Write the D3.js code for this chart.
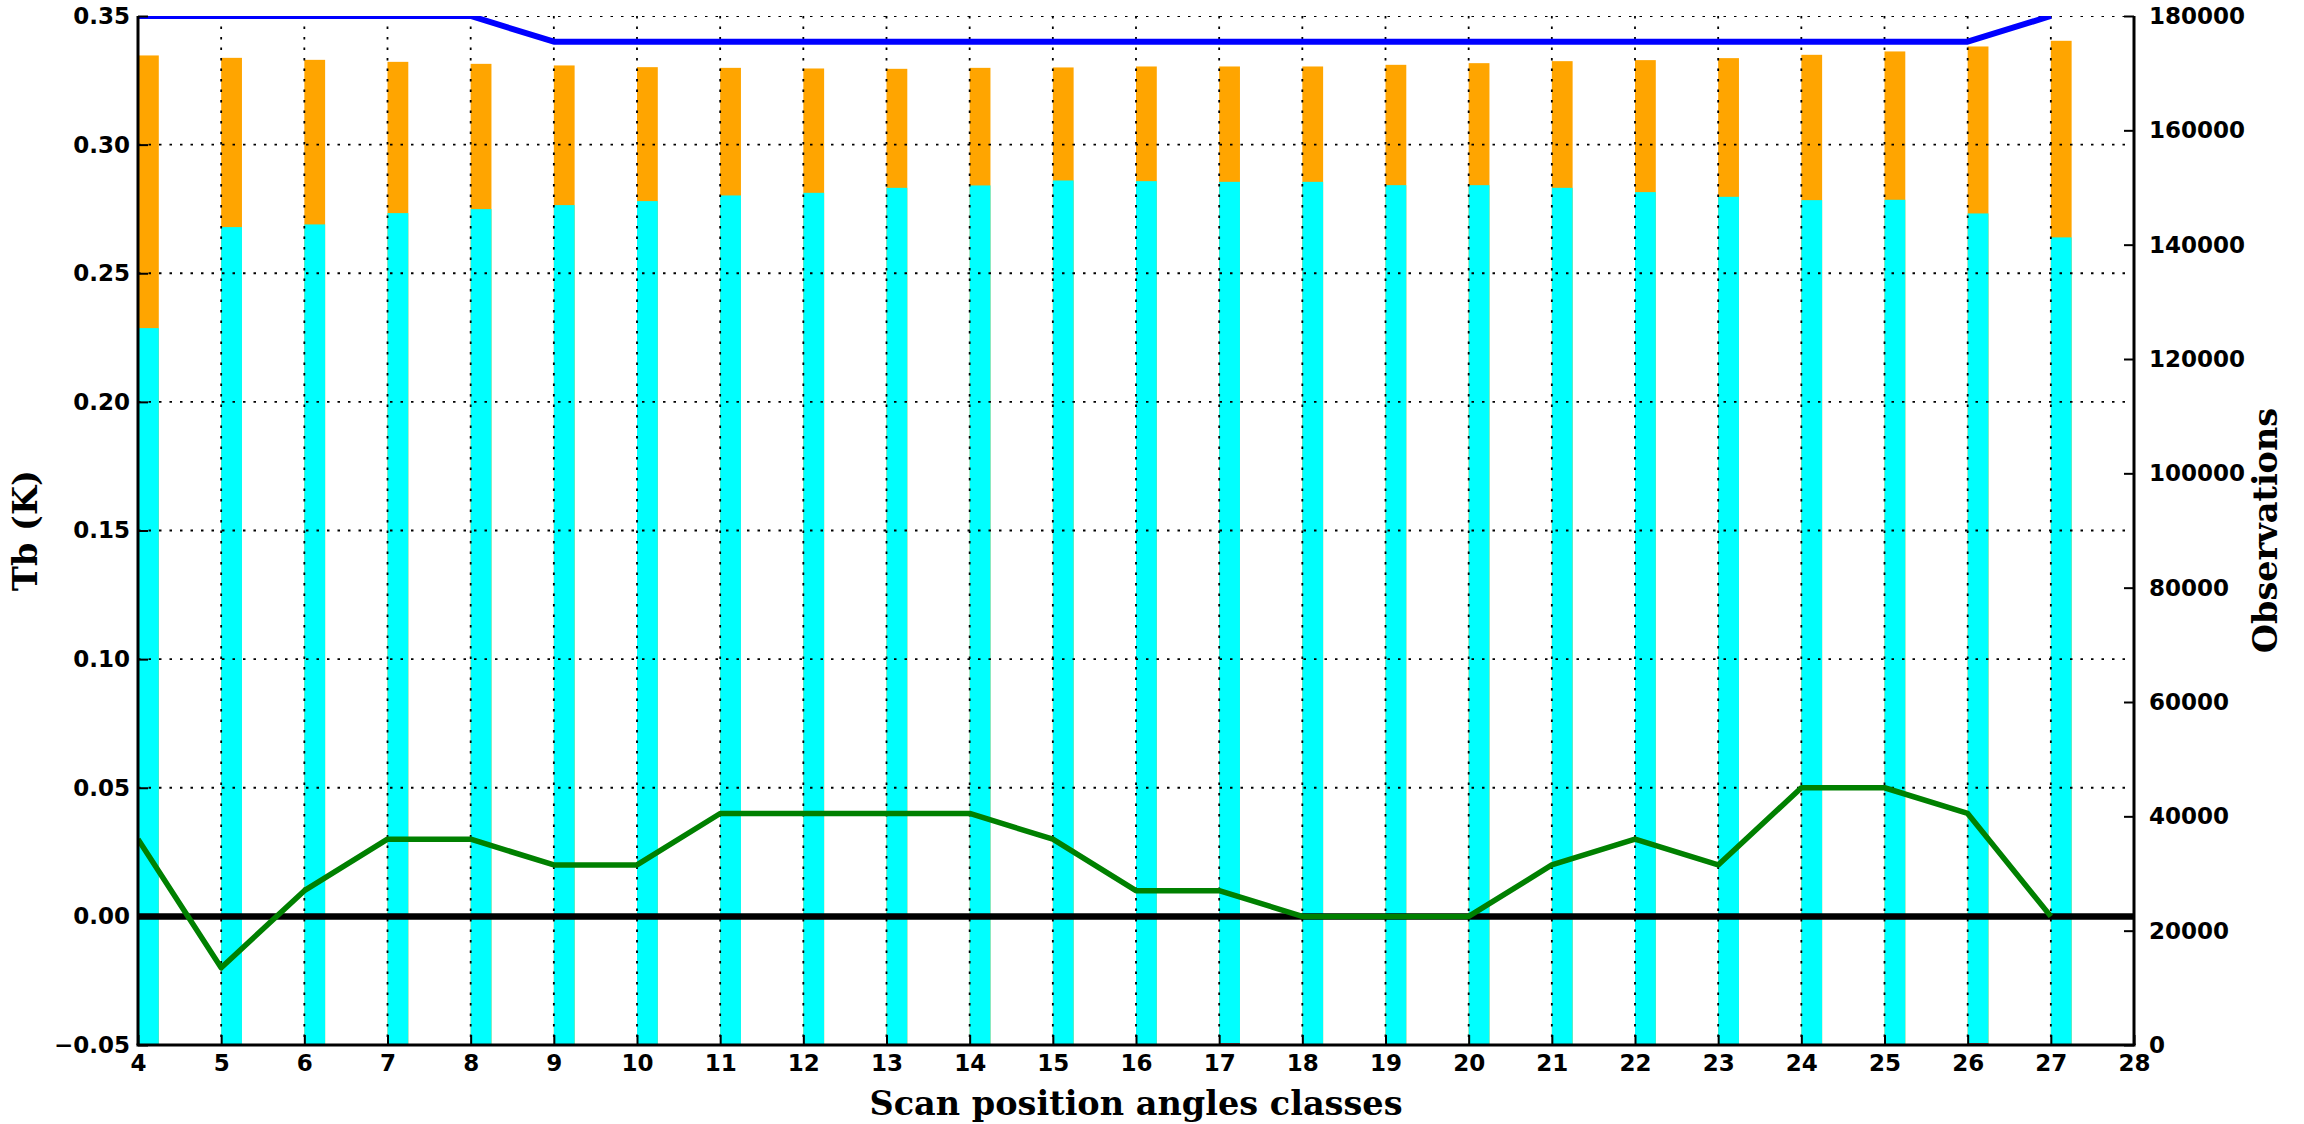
<!DOCTYPE html>
<html>
<head>
<meta charset="utf-8">
<script src="https://cdn.jsdelivr.net/npm/d3@7"></script>
<style>
  html, body { margin: 0; padding: 0; background: #fff; }
  svg { display: block; }
</style>
</head>
<body>
<svg id="chart" width="2304" height="1124"></svg>
<script>
// ---- data ----
const categories = [4,5,6,7,8,9,10,11,12,13,14,15,16,17,18,19,20,21,22,23,24,25,26,27];
const totalObs = [173100,172680,172330,171980,171630,171350,171050,170930,170820,170760,170930,171000,
                  171170,171170,171170,171460,171750,172100,172280,172630,173210,173800,174670,175660];
const usedObs  = [125400,143070,143540,145520,146220,146920,147620,148610,149070,149940,150360,151230,
                  151110,150990,150990,150410,150410,149940,149190,148370,147790,147850,145460,141270];
const rejectedObs = [0,0,0,0,0,0,0,0,0,0,0,0,0,300,0,0,0,0,0,0,0,0,300,0];
const stdDev   = [0.35,0.35,0.35,0.35,0.35,0.34,0.34,0.34,0.34,0.34,0.34,0.34,
                  0.34,0.34,0.34,0.34,0.34,0.34,0.34,0.34,0.34,0.34,0.34,0.35];
const meanBias = [0.03,-0.02,0.01,0.03,0.03,0.02,0.02,0.04,0.04,0.04,0.04,0.03,
                  0.01,0.01,0.00,0.00,0.00,0.02,0.03,0.02,0.05,0.05,0.04,0.00];
const xTicks = [4,5,6,7,8,9,10,11,12,13,14,15,16,17,18,19,20,21,22,23,24,25,26,27,28];
const leftTicks = [-0.05,0,0.05,0.10,0.15,0.20,0.25,0.30,0.35];
const rightTicks = [0,20000,40000,60000,80000,100000,120000,140000,160000,180000];
const barWidth = 0.25;

// ---- layout ----
const L = 138, R = 2134, T = 16, B = 1045;
const svg = d3.select("#chart");
const x = d3.scaleLinear().domain([4,28]).range([L,R]);
const yL = d3.scaleLinear().domain([-0.05,0.35]).range([B,T]);
const yR = d3.scaleLinear().domain([0,180000]).range([B,T]);

svg.append("defs").append("clipPath").attr("id","plotclip")
  .append("rect").attr("x",L).attr("y",T).attr("width",R-L).attr("height",B-T);

const plot = svg.append("g").attr("clip-path","url(#plotclip)");

// bars
const rows = categories.map((c,i)=>({c, tot: totalObs[i], used: usedObs[i], rej: rejectedObs[i]}));
plot.selectAll("rect.tot").data(rows).join("rect").attr("class","tot")
  .attr("x", d=>x(d.c)).attr("width", x(barWidth)-x(0))
  .attr("y", d=>yR(d.tot)).attr("height", d=>yR(0)-yR(d.tot))
  .attr("fill","#FFA500");
plot.selectAll("rect.used").data(rows).join("rect").attr("class","used")
  .attr("x", d=>x(d.c)).attr("width", x(barWidth)-x(0))
  .attr("y", d=>yR(d.used)).attr("height", d=>yR(0)-yR(d.used))
  .attr("fill","#00FFFF");
plot.selectAll("rect.rej").data(rows).join("rect").attr("class","rej")
  .attr("x", d=>x(d.c)).attr("width", x(barWidth)-x(0))
  .attr("y", d=>yR(d.rej)).attr("height", d=>yR(0)-yR(d.rej))
  .attr("fill","#CC0000");

// grid (drawn above bars)
const grid = plot.append("g");
grid.selectAll("line.vg").data(xTicks.slice(1,-1)).join("line")
  .attr("x1", d=>x(d)).attr("x2", d=>x(d)).attr("y1", T).attr("y2", B)
  .attr("stroke","#000").attr("stroke-width",1.8).attr("stroke-dasharray","2.5,8");
grid.selectAll("line.hg").data(leftTicks).join("line")
  .attr("x1", L).attr("x2", R).attr("y1", d=>yL(d)).attr("y2", d=>yL(d))
  .attr("stroke","#000").attr("stroke-width",1.8).attr("stroke-dasharray","2.5,8");

// zero line
plot.append("line").attr("x1",L).attr("x2",R).attr("y1",yL(0)).attr("y2",yL(0))
  .attr("stroke","#000").attr("stroke-width",6.5);

// lines
const line = d3.line().x(d=>x(d[0])).y(d=>yL(d[1]));
plot.append("path").datum(categories.map((c,i)=>[c,stdDev[i]]))
  .attr("d", line).attr("fill","none").attr("stroke","#0000FF").attr("stroke-width",6).attr("stroke-linejoin","round");
plot.append("path").datum(categories.map((c,i)=>[c,meanBias[i]]))
  .attr("d", line).attr("fill","none").attr("stroke","#008000").attr("stroke-width",5.5).attr("stroke-linejoin","round");

// axes
const fmtL = d3.format(".2f");
const tickFont = "DejaVu Sans, sans-serif";
function styleAxis(g){
  g.selectAll("text").attr("font-family",tickFont).attr("font-weight","bold").attr("font-size",23).attr("fill","#000");
  g.selectAll("line").attr("stroke","#000").attr("stroke-width",2);
  g.select(".domain").remove();
}
const xAxis = svg.append("g").attr("transform",`translate(0,${B})`)
  .call(d3.axisBottom(x).tickValues(xTicks).tickFormat(d3.format("d")).tickSizeInner(-10).tickSizeOuter(0).tickPadding(10));
styleAxis(xAxis);
const yAxisL = svg.append("g").attr("transform",`translate(${L},0)`)
  .call(d3.axisLeft(yL).tickValues(leftTicks).tickFormat(fmtL).tickSizeInner(-10).tickSizeOuter(0).tickPadding(8));
styleAxis(yAxisL);
const yAxisR = svg.append("g").attr("transform",`translate(${R},0)`)
  .call(d3.axisRight(yR).tickValues(rightTicks).tickFormat(d3.format("d")).tickSizeInner(-10).tickSizeOuter(0).tickPadding(15));
styleAxis(yAxisR);

// spines: left, bottom, right
svg.append("line").attr("x1",L).attr("x2",L).attr("y1",T).attr("y2",B).attr("stroke","#000").attr("stroke-width",3);
svg.append("line").attr("x1",R).attr("x2",R).attr("y1",T).attr("y2",B).attr("stroke","#000").attr("stroke-width",3);
svg.append("line").attr("x1",L-1.5).attr("x2",R+1.5).attr("y1",B).attr("y2",B).attr("stroke","#000").attr("stroke-width",3);

// axis labels
const labFont = "DejaVu Serif, serif";
svg.append("text").attr("x", (L+R)/2).attr("y", 1115).attr("text-anchor","middle")
  .attr("font-family",labFont).attr("font-weight","bold").attr("font-size",33.5).text("Scan position angles classes");
svg.append("text").attr("transform",`translate(37,${(T+B)/2}) rotate(-90)`).attr("text-anchor","middle")
  .attr("font-family",labFont).attr("font-weight","bold").attr("font-size",33.5).text("Tb (K)");
svg.append("text").attr("transform",`translate(2277,${(T+B)/2}) rotate(-90)`).attr("text-anchor","middle")
  .attr("font-family",labFont).attr("font-weight","bold").attr("font-size",33.5).text("Observations");
</script>
</body>
</html>
